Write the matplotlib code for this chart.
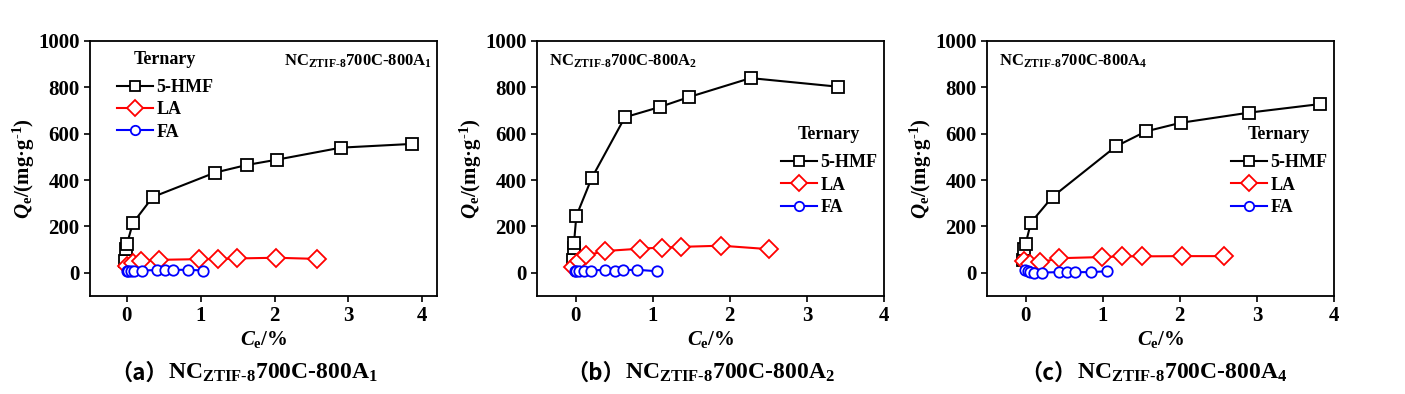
import matplotlib
matplotlib.use('Agg')
import matplotlib.pyplot as plt

plt.rcParams['font.family'] = ['Liberation Serif', 'Noto Sans CJK SC']
plt.rcParams['font.weight'] = 'bold'
plt.rcParams['axes.labelweight'] = 'bold'
plt.rcParams['mathtext.fontset'] = 'custom'
plt.rcParams['mathtext.rm'] = 'Liberation Serif:bold'
plt.rcParams['mathtext.it'] = 'Liberation Serif:bold:italic'
plt.rcParams['mathtext.bf'] = 'Liberation Serif:bold'

# panel (a) A1
a_hmf_x = [-0.02, -0.01, 0.0, 0.08, 0.35, 1.19, 1.62, 2.03, 2.90, 3.86]
a_hmf_y = [53, 101, 124, 214, 327, 432, 465, 488, 540, 556]
a_la_x = [0.0, 0.08, 0.19, 0.44, 0.98, 1.24, 1.49, 2.02, 2.58]
a_la_y = [30, 43, 50, 56, 59, 59, 62, 65, 60]
a_fa_x = [0.0, 0.02, 0.05, 0.10, 0.20, 0.41, 0.52, 0.62, 0.83, 1.03]
a_fa_y = [10, 7, 7, 10, 10, 12, 12, 13, 13, 10]

# panel (b) A2
b_hmf_x = [-0.035, -0.02, -0.02, 0.01, 0.21, 0.64, 1.09, 1.47, 2.27, 3.40]
b_hmf_y = [56, 108, 129, 245, 409, 671, 715, 758, 840, 803]
b_la_x = [-0.03, 0.04, 0.14, 0.38, 0.83, 1.12, 1.37, 1.89, 2.51]
b_la_y = [25, 52, 75, 94, 104, 109, 112, 117, 102]
b_fa_x = [-0.01, 0.01, 0.04, 0.11, 0.20, 0.38, 0.51, 0.61, 0.80, 1.05]
b_fa_y = [10, 7, 7, 10, 10, 13, 10, 12, 13, 7]

# panel (c) A4
c_hmf_x = [-0.03, -0.02, 0.0, 0.07, 0.35, 1.17, 1.56, 2.01, 2.90, 3.82]
c_hmf_y = [55, 102, 124, 217, 328, 545, 610, 647, 691, 728]
c_la_x = [-0.02, 0.06, 0.19, 0.44, 0.99, 1.25, 1.51, 2.03, 2.57]
c_la_y = [50, 40, 45, 63, 68, 71, 71, 72, 72]
c_fa_x = [-0.01, 0.03, 0.06, 0.11, 0.21, 0.43, 0.54, 0.64, 0.85, 1.06]
c_fa_y = [13, 7, 3, 1, 1, 3, 3, 3, 3, 7]

panels = [
    ('1', '（a）', (a_hmf_x, a_hmf_y), (a_la_x, a_la_y), (a_fa_x, a_fa_y), 4.2),
    ('2', '（b）', (b_hmf_x, b_hmf_y), (b_la_x, b_la_y), (b_fa_x, b_fa_y), 4.0),
    ('4', '（c）', (c_hmf_x, c_hmf_y), (c_la_x, c_la_y), (c_fa_x, c_fa_y), 4.0),
]

W, H = 1405, 394
fig = plt.figure(figsize=(W / 100, H / 100), dpi=100)
lefts = [90, 537, 987]
name_x = [168, 625, 1077]   # where the caption name starts (px)

for i, (sub, tag, hmf, la, fa, xmax) in enumerate(panels):
    ax = fig.add_axes([lefts[i] / W, 1 - 296 / H, 347 / W, 255 / H])
    ax.plot(*hmf, color='black', marker='s', ms=8, mfc='white', mew=1.3, lw=1.5, label='5-HMF')
    ax.plot(*la, color='red', marker='D', ms=9, mfc='white', mew=1.3, lw=1.5, label='LA')
    ax.plot(*fa, color='blue', marker='o', ms=7.5, mfc='white', mew=1.3, lw=1.5, label='FA')
    ax.set_xlim(-0.5, xmax)
    ax.set_ylim(-100, 1000)
    ax.set_xticks([0, 1, 2, 3, 4])
    ax.set_yticks([0, 200, 400, 600, 800, 1000])
    ax.tick_params(direction='out', length=4, width=1.2, labelsize=15)
    for s in ax.spines.values():
        s.set_linewidth(1.3)
    ax.set_xlabel(r'$C_{\mathrm{e}}$/%', fontsize=15, labelpad=2)
    ax.set_ylabel(r'$Q_{\mathrm{e}}$/(mg·g$^{\mathrm{\text{-}1}}$)', fontsize=15, labelpad=1)

    name = r'NC$_{\mathrm{ZTIF{\text{-}}8}}$700C-800A$_{\mathrm{' + sub + '}}$'
    leg_kw = dict(title='Ternary', frameon=False, fontsize=13, title_fontsize=13,
                  handlelength=2.0, handletextpad=0.2, labelspacing=0.3, markerscale=0.9)
    if i == 0:
        ax.text(0.986, 0.92, name, transform=ax.transAxes, ha='right', va='center', fontsize=12)
        leg = ax.legend(loc='upper left', bbox_to_anchor=(0.03, 1.025), **leg_kw)
    else:
        ax.text(0.035, 0.92, name, transform=ax.transAxes, ha='left', va='center', fontsize=12)
        leg = ax.legend(loc='upper left', bbox_to_anchor=(0.655, 0.73), **leg_kw)
    leg.get_title().set_fontweight('bold')
    leg._legend_box.sep = 8

    fig.text(name_x[i] / W, 1 - 373 / H, tag, ha='right', va='center', fontsize=16,
             family='Noto Sans CJK SC')
    fig.text(name_x[i] / W, 1 - 373 / H, name, ha='left', va='center', fontsize=17)

fig.savefig('out.png', dpi=100)
